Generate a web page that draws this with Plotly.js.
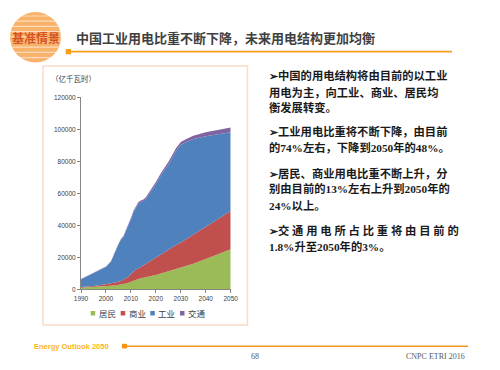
<!DOCTYPE html>
<html><head><meta charset="utf-8">
<script src="https://cdn.plot.ly/plotly-3.0.1.min.js"></script>
<style>html,body{margin:0;padding:0;background:#fff}#c{width:500px;height:370px}</style>
</head><body><div id="c"></div>
<script>
var years = [1990,1995,2000,2002,2003,2004,2005,2006,2007,2008,2009,2010,2011,2012,2013,2014,2015,2016,2018,2020,2022,2025,2028,2030,2032,2035,2040,2045,2050];
var residential = [900,1300,1900,2200,2400,2600,2800,3000,3300,3700,4100,4800,5300,5800,6500,6900,7200,7600,8300,9000,9800,11200,12500,13400,14300,16000,19000,22000,25000];
var commercial = [500,700,1300,1500,1600,1800,1900,2200,2600,3100,3700,4700,5700,6500,6500,7100,7800,8400,9600,10800,12100,13600,15000,15900,16900,18200,20200,22000,24000];
var industrial = [4950,8100,10750,13500,17150,20200,23350,25800,26850,29600,32050,34250,37150,38800,40500,40500,40150,40400,42900,45900,49200,53100,58800,60900,60700,59700,56500,52800,49200];
var transport = [150,200,250,300,350,400,450,500,550,600,650,750,850,900,1000,1000,1050,1100,1200,1300,1400,1600,1700,1800,1900,2100,2500,2800,3000];
var seriesNames = ['居民','商业','工业','交通'];
var seriesColors = ['#9BBB59','#C0504D','#4F81BD','#8064A2'];
var xTicks = [1990,2000,2010,2020,2030,2040,2050];
var yTicks = [0,20000,40000,60000,80000,100000,120000];
var title = '中国工业用电比重不断下降，未来用电结构更加均衡';
var unitLabel = '（亿千瓦时）';
var bodyLines = [
  ['➢中国的用电结构将由目前的以工业', 75],
  ['用电为主，向工业、商业、居民均', 92],
  ['衡发展转变。', 107.5],
  ['➢工业用电比重将不断下降，由目前', 131.5],
  ['的74%左右，下降到2050年的48%。', 147.3],
  ['➢居民、商业用电比重不断上升，分', 173.3],
  ['别由目前的13%左右上升到2050年的', 188.5],
  ['24%以上。', 205.5],
  ['➢交 通 用 电 所 占 比 重 将 由 目 前 的', 230.7],
  ['1.8%升至2050年的3%。', 246.7]
];

function PX(x){return x/500;}
function PY(y){return 1-y/370;}

var values = [residential, commercial, industrial, transport];
var traces = values.map(function(v,i){
  return {x:years, y:v, type:'scatter', mode:'lines', stackgroup:'one',
    name:seriesNames[i], line:{width:0, color:seriesColors[i]}, fillcolor:seriesColors[i],
    showlegend:false, hoverinfo:'skip'};
});

var shapes = [];
var annotations = [];
// chart frame
shapes.push({type:'rect', xref:'paper', yref:'paper', x0:PX(43), x1:PX(247.5), y0:PY(325), y1:PY(66), line:{color:'#FBDCC6', width:1.5}, fillcolor:'rgba(0,0,0,0)', layer:'below'});
// logo globe
shapes.push({type:'circle', xref:'paper', yref:'paper', x0:PX(10), x1:PX(61), y0:PY(62.5), y1:PY(12), fillcolor:'#F8B26A', line:{width:0}, layer:'below'});
for (var s=0;s<9;s++){
  var yy = 16 + s*5.2;
  shapes.push({type:'line', xref:'paper', yref:'paper', x0:PX(8), x1:PX(63), y0:PY(yy), y1:PY(yy), line:{color:'rgba(255,255,255,0.55)', width:1.2}, layer:'below'});
}
// title underline
shapes.push({type:'rect', xref:'paper', yref:'paper', x0:PX(65.7), x1:PX(71), y0:PY(54.3), y1:PY(49), fillcolor:'#F7A11A', line:{width:0}});
shapes.push({type:'line', xref:'paper', yref:'paper', x0:PX(71), x1:PX(452), y0:PY(51.7), y1:PY(51.7), line:{color:'#F7A11A', width:1.8}});
// footer
shapes.push({type:'rect', xref:'paper', yref:'paper', x0:PX(122), x1:PX(127), y0:PY(348.5), y1:PY(343.8), fillcolor:'#F7941D', line:{width:0}});
shapes.push({type:'line', xref:'paper', yref:'paper', x0:PX(127), x1:PX(468), y0:PY(346.2), y1:PY(346.2), line:{color:'#F7941D', width:1.5}});

annotations.push({xref:'paper', yref:'paper', x:PX(36), y:PY(37.3), text:'<b>基准情景</b>', showarrow:false, xanchor:'center', yanchor:'middle', font:{family:'Noto Sans CJK SC', size:12, color:'#D6541E'}});
annotations.push({xref:'paper', yref:'paper', x:PX(74), y:PY(37.5), text:'<b>'+title+'</b>', showarrow:false, xanchor:'left', yanchor:'middle', font:{family:'Noto Sans CJK SC', size:13, color:'#404040'}});
annotations.push({xref:'paper', yref:'paper', x:PX(49), y:PY(78.3), text:unitLabel, showarrow:false, xanchor:'left', yanchor:'middle', font:{family:'Noto Sans CJK SC', size:7.5, color:'#404040'}});
bodyLines.forEach(function(l){
  annotations.push({xref:'paper', yref:'paper', x:PX(267), y:PY(l[1]), text:'<b>'+l[0]+'</b>', showarrow:false, xanchor:'left', yanchor:'middle', font:{family:'Liberation Serif, Noto Sans CJK SC', size:11.3, color:'#1a1a1a'}});
});
// legend (manual)
var legX = [92.7, 122.7, 152.3, 182];
seriesNames.forEach(function(n,i){
  shapes.push({type:'rect', xref:'paper', yref:'paper', x0:PX(legX[i]-2), x1:PX(legX[i]+2.5), y0:PY(315.5), y1:PY(311), fillcolor:seriesColors[i], line:{width:0}});
  annotations.push({xref:'paper', yref:'paper', x:PX(legX[i]+4), y:PY(313.3), text:n, showarrow:false, xanchor:'left', yanchor:'middle', font:{family:'Noto Sans CJK SC', size:8.5, color:'#404040'}});
});
annotations.push({xref:'paper', yref:'paper', x:PX(32), y:PY(346), text:'<b>Energy Outlook 2050</b>', showarrow:false, xanchor:'left', yanchor:'middle', font:{family:'Liberation Sans', size:7.5, color:'#FDB515'}});
annotations.push({xref:'paper', yref:'paper', x:PX(255), y:PY(356.5), text:'68', showarrow:false, xanchor:'center', yanchor:'middle', font:{family:'Liberation Serif', size:8, color:'#595959'}});
annotations.push({xref:'paper', yref:'paper', x:PX(466.5), y:PY(356.5), text:'CNPC ETRI 2016', showarrow:false, xanchor:'right', yanchor:'middle', font:{family:'Liberation Serif', size:8, color:'#595959'}});

var layout = {
  width:500, height:370, margin:{l:0,r:0,t:0,b:0},
  paper_bgcolor:'#ffffff', plot_bgcolor:'rgba(0,0,0,0)',
  showlegend:false,
  xaxis:{domain:[PX(81),PX(230.7)], range:[1990,2050], tickvals:xTicks, ticktext:xTicks.map(String),
    showgrid:false, zeroline:false, showline:true, linecolor:'#868686', linewidth:1,
    ticks:'outside', ticklen:3, tickcolor:'#868686',
    tickfont:{family:'Liberation Sans', size:6.5, color:'#404040'}, fixedrange:true},
  yaxis:{domain:[PY(289.3),PY(97.3)], range:[0,120000], tickvals:yTicks, ticktext:yTicks.map(String),
    showgrid:false, zeroline:false, showline:true, linecolor:'#868686', linewidth:1,
    ticks:'outside', ticklen:3, tickcolor:'#868686',
    tickfont:{family:'Liberation Sans', size:6.5, color:'#404040'}, fixedrange:true},
  shapes:shapes, annotations:annotations
};
Plotly.newPlot('c', traces, layout, {staticPlot:true, displayModeBar:false});
</script></body></html>
